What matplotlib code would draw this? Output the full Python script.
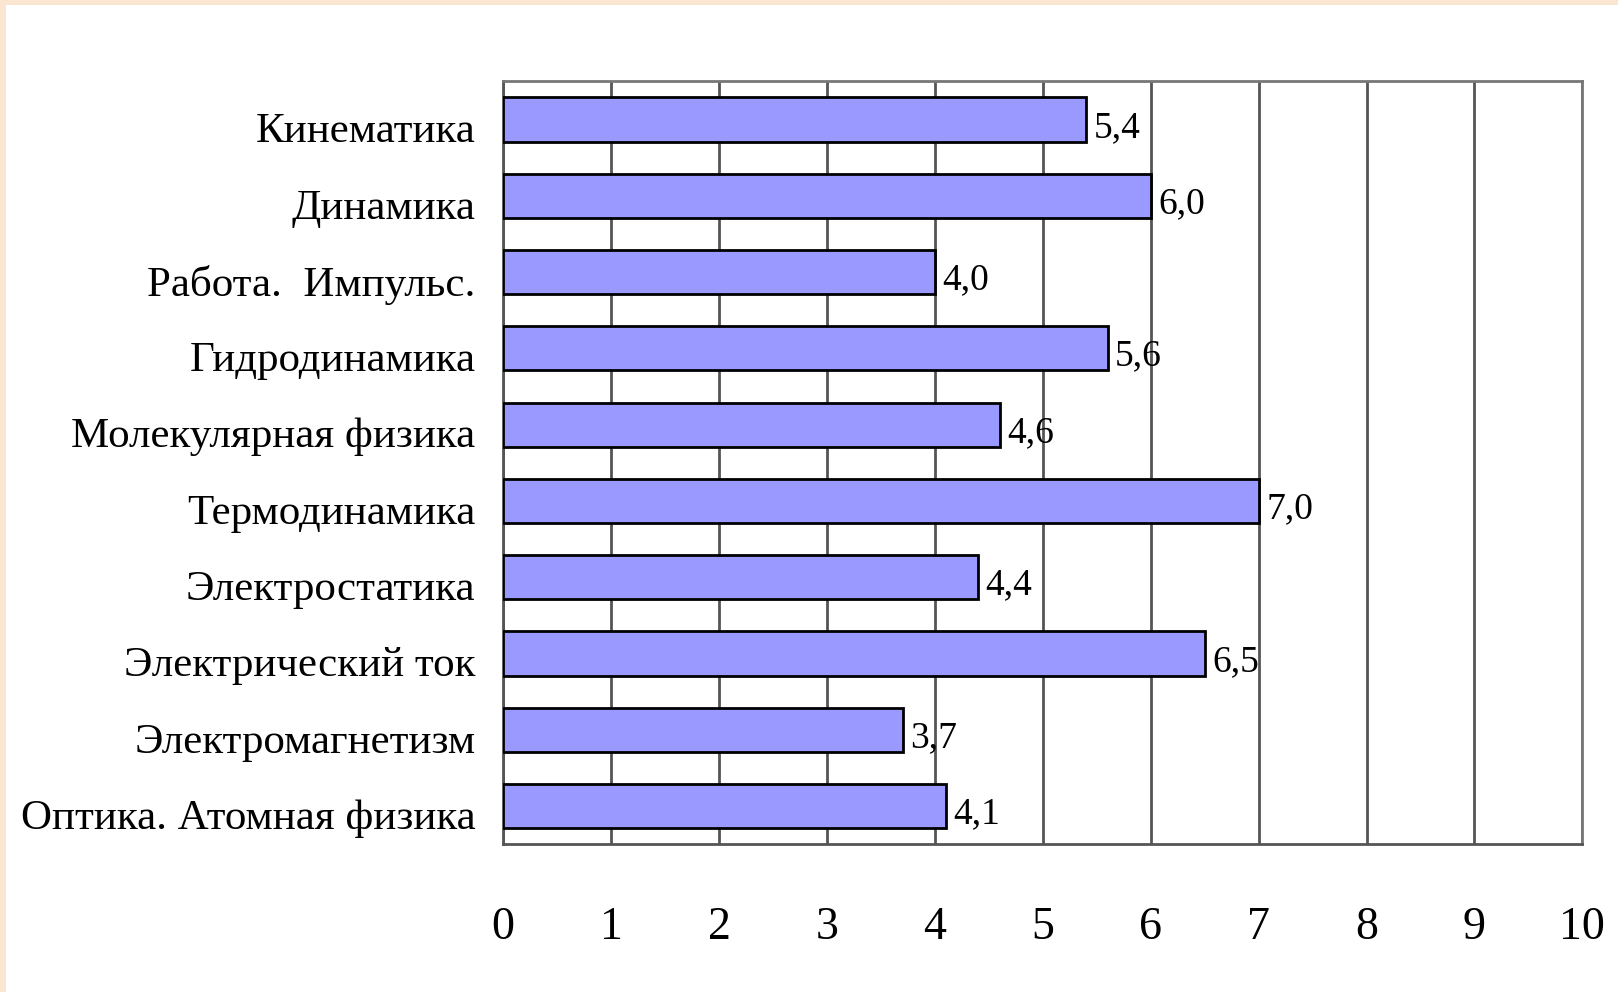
import matplotlib.pyplot as plt
from matplotlib.patches import Rectangle
from matplotlib.transforms import ScaledTranslation

# Data
topics = ['Кинематика', 'Динамика', 'Работа.  Импульс.', 'Гидродинамика',
          'Молекулярная физика', 'Термодинамика', 'Электростатика',
          'Электрический ток', 'Электромагнетизм', 'Оптика. Атомная физика']
scores = [5.4, 6.0, 4.0, 5.6, 4.6, 7.0, 4.4, 6.5, 3.7, 4.1]
xticks = list(range(0, 11))

plt.rcParams['font.family'] = ['Liberation Serif', 'DejaVu Serif']

fig = plt.figure(figsize=(16.18, 9.92), dpi=100)
fig.patch.set_facecolor('white')

# peach frame at top and left edge
fig.patches.append(Rectangle((0, 0.9945), 1, 0.0055, transform=fig.transFigure,
                             facecolor='#fbe6d2', edgecolor='none', zorder=0))
fig.patches.append(Rectangle((0, 0), 0.0037, 1, transform=fig.transFigure,
                             facecolor='#fbe6d2', edgecolor='none', zorder=0))

ax = fig.add_axes([0.311, 0.149, 0.667, 0.769])

y = list(range(len(topics)))
ax.barh(y, scores, height=0.58, color='#9999ff', edgecolor='black',
        linewidth=2, zorder=3)

down = ScaledTranslation(0, -0.08, fig.dpi_scale_trans)
for yi, v in zip(y, scores):
    ax.text(v + 0.07, yi, f'{v:.1f}'.replace('.', ','), va='center', ha='left',
            fontsize=27, zorder=4, transform=ax.transData + down)

ax.set_xlim(0, 10)
ax.set_ylim(len(topics) - 0.5, -0.5)
ax.set_xticks(xticks)
ax.set_xticklabels([str(t) for t in xticks], fontsize=33)
ax.set_yticks(y)
ax.set_yticklabels(topics, fontsize=31)
ax.tick_params(axis='x', length=0, pad=45)
ax.tick_params(axis='y', length=0, pad=20)
for lbl in ax.get_yticklabels():
    lbl.set_transform(lbl.get_transform() + down)

ax.grid(axis='x', color='#555555', linewidth=2, zorder=1)
ax.set_axisbelow(True)
for side in ['top', 'right']:
    ax.spines[side].set_color('#777777')
    ax.spines[side].set_linewidth(2)
for side in ['left', 'bottom']:
    ax.spines[side].set_color('#555555')
    ax.spines[side].set_linewidth(2)

fig.savefig('out.png', dpi=100)
